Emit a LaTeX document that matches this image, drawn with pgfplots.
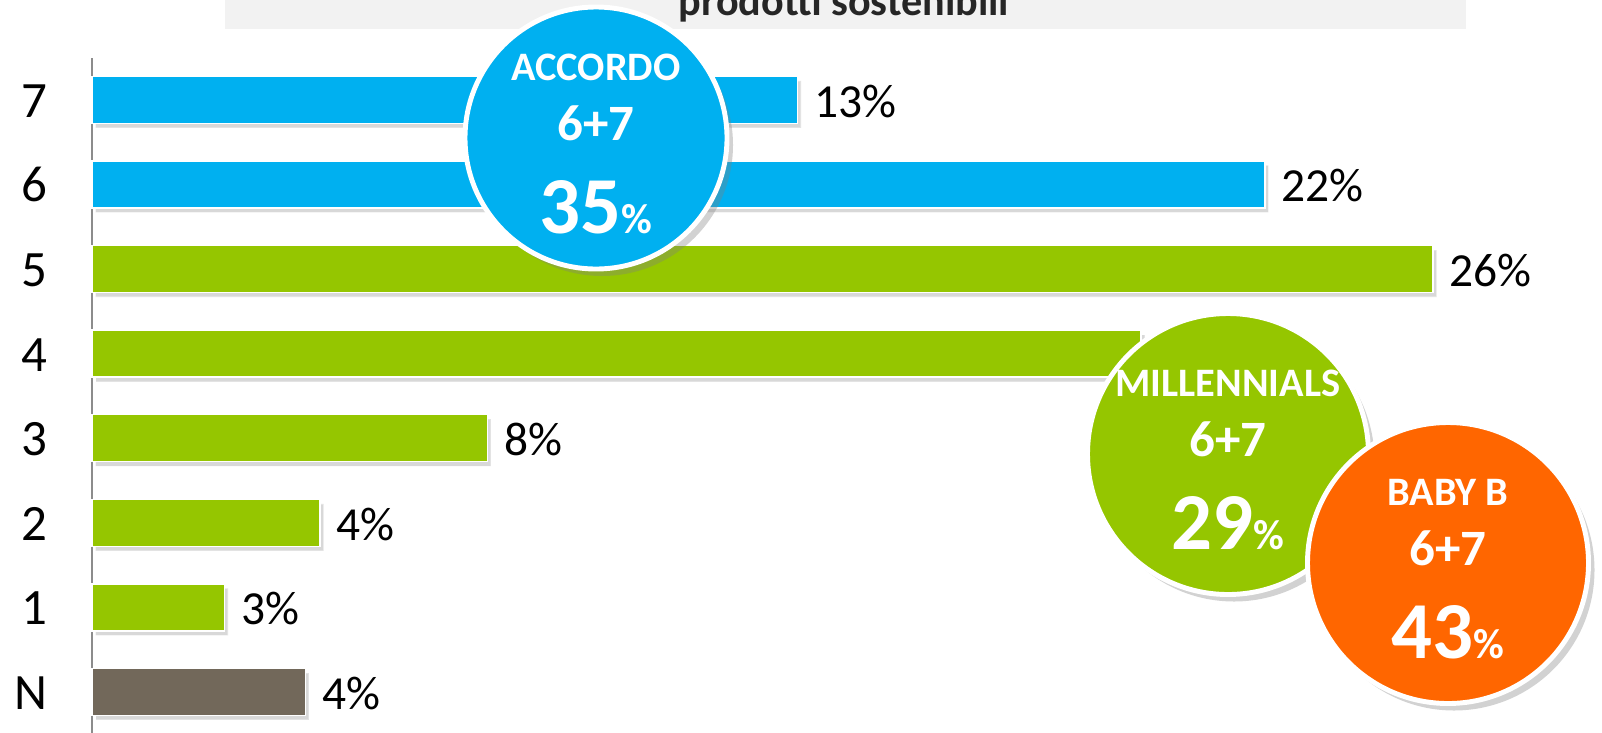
\documentclass[border=0pt]{standalone}
\usepackage{fontspec}
\setmainfont{Carlito}
\usepackage{pgfplots}
\pgfplotsset{compat=1.18}
\usepackage{pgfplotstable}
\usetikzlibrary{shadows}
\definecolor{cblue}{HTML}{00B0F0}
\definecolor{cgreen}{HTML}{95C600}
\definecolor{cgray}{HTML}{72685A}
\definecolor{corange}{HTML}{FF6600}
\definecolor{bandgray}{HTML}{F2F2F2}

\pgfplotstableread{
y x
6 22.37
7 13.46
}\tblblue
\pgfplotstableread{
y x
1 2.53
2 4.35
3 7.54
5 25.58
}\tblgreen
% bar 4: its label (20%) is hidden behind the MILLENNIALS bubble in the reference
\pgfplotstableread{
y x
4 20.01
}\tblgreenhidden
\pgfplotstableread{
y x
0 4.07
}\tblgray

\newcommand{\bubble}[6]{%
  \begin{scope}[shift={(#1,#2)}]
    \node[circle, fill=#3, draw=white, line width=1.4pt, minimum size=#6cm, inner sep=0pt,
      drop shadow={shadow xshift=0.6mm, shadow yshift=-0.7mm, opacity=0.35}] at (0,0) {};
    \node[anchor=base, text=white, font=\bfseries\fontsize{11.5}{13}\selectfont] at (0,0.58) {#4};
    \node[anchor=base, text=white, font=\bfseries\fontsize{14.5}{16}\selectfont] at (0,-0.02) {6+7};
    \node[anchor=base, text=white, font=\bfseries\fontsize{23}{26}\selectfont] at (0,-0.95) {#5{\fontsize{12}{14}\selectfont\%}};
  \end{scope}}

\begin{document}
\begin{tikzpicture}[x=1cm,y=1cm]
\useasboundingbox (0,0) rectangle (16.02,7.32);
\fill[white] (0,0) rectangle (16.02,7.32);
\fill[bandgray] (2.25,7.03) rectangle (14.66,7.40);
\node[anchor=base, inner sep=0pt, font=\bfseries\fontsize{12}{14}\selectfont, text=black!85] at (8.44,7.17) {prodotti sostenibili};
\begin{axis}[
  at={(0.92cm,-0.023cm)}, anchor=south west,
  scale only axis, width=14.68cm, height=6.768cm,
  xbar, bar width=0.47cm, bar shift=0pt,
  xmin=0, xmax=28, ymin=-0.5, ymax=7.5, enlargelimits=false,
  axis x line=none, axis y line*=left,
  y axis line style={draw=black!45, line width=0.6pt},
  ytick={0,...,7}, yticklabels={N,1,2,3,4,5,6,7},
  major tick length=0pt, ytick style={draw=none},
  yticklabel style={anchor=base east, inner sep=0pt, xshift=-4.4mm, yshift=-1.75mm, font=\fontsize{14.5}{17}\selectfont, text=black},
  /pgf/number format/assume math mode=true,
  point meta=x,
  every node near coord/.append style={anchor=base west, inner sep=0pt, xshift=1.6mm, yshift=-1.75mm, font=\fontsize{13.5}{16}\selectfont, text=black},
  clip=false,
]
\addplot[fill=cblue, draw=white, line width=0.4pt, drop shadow={shadow xshift=0.35mm, shadow yshift=-0.45mm, opacity=0.3},
  nodes near coords={\pgfmathprintnumber[fixed,precision=0]{\pgfplotspointmeta}\%}] table[x=x,y=y]{\tblblue};
\addplot[fill=cgreen, draw=white, line width=0.4pt, drop shadow={shadow xshift=0.35mm, shadow yshift=-0.45mm, opacity=0.3},
  nodes near coords={\pgfmathprintnumber[fixed,precision=0]{\pgfplotspointmeta}\%}] table[x=x,y=y]{\tblgreen};
\addplot[fill=cgreen, draw=white, line width=0.4pt, drop shadow={shadow xshift=0.35mm, shadow yshift=-0.45mm, opacity=0.3}] table[x=x,y=y]{\tblgreenhidden};
\addplot[fill=cgray, draw=white, line width=0.4pt, drop shadow={shadow xshift=0.35mm, shadow yshift=-0.45mm, opacity=0.3},
  nodes near coords={\pgfmathprintnumber[fixed,precision=0]{\pgfplotspointmeta}\%}] table[x=x,y=y]{\tblgray};
\end{axis}
\bubble{5.96}{5.94}{cblue}{ACCORDO}{35}{2.62}
\bubble{12.28}{2.78}{cgreen}{MILLENNIALS}{29}{2.81}
\bubble{14.48}{1.69}{corange}{BABY B}{43}{2.81}
\end{tikzpicture}
\end{document}
